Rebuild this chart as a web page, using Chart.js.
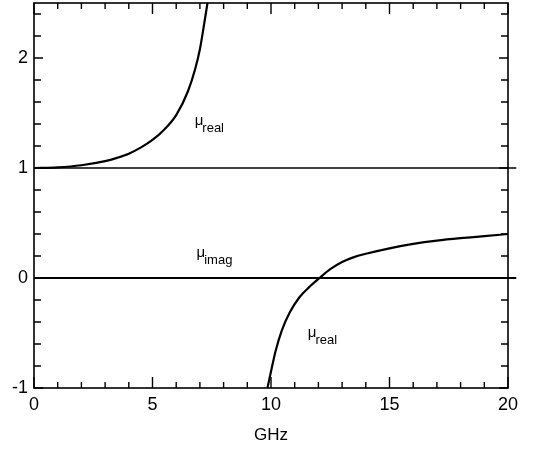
<!DOCTYPE html>
<html>
<head>
<meta charset="utf-8">
<script src="https://cdn.jsdelivr.net/npm/chart.js@4.4.1/dist/chart.umd.min.js"></script>
<style>
  html, body { margin: 0; padding: 0; background: #fff; }
  #wrap { width: 545px; height: 474px; }
</style>
</head>
<body>
<div id="wrap"><canvas id="mu"></canvas></div>
<script>
// values
var upperFreq = [0, 1, 2, 3, 3.5, 4, 4.5, 5, 5.5, 6, 6.5, 6.8, 7.0, 7.15, 7.32];
var upperMu   = [1.0, 1.006, 1.025, 1.062, 1.092, 1.13, 1.185, 1.255, 1.35, 1.48, 1.70, 1.90, 2.08, 2.27, 2.5];

var lowerFreq = [9.85, 10.0, 10.2, 10.45, 10.8, 11.2, 11.6, 12.05, 12.5, 13.0, 13.5, 14.0, 15.0, 16.0, 17.0, 18.0, 19.0, 20.0];
var lowerMu   = [-1.0, -0.85, -0.66, -0.48, -0.31, -0.175, -0.085, 0.0, 0.08, 0.145, 0.19, 0.22, 0.27, 0.31, 0.34, 0.362, 0.38, 0.40];

var refFreq   = [0, 20.35];
var unityMu   = [1, 1];
var imagMu    = [0, 0];

var xTickLabels = [0, 5, 10, 15, 20];
var yTickLabels = [-1, 0, 1, 2];

function pts(xs, ys) {
  return xs.map(function(x, i) { return {x: x, y: ys[i]}; });
}

var font = '"Liberation Sans", Arial, Helvetica, sans-serif';

// frame, inward ticks and the mu labels
var framePlugin = {
  id: 'frame',
  afterDraw: function(chart) {
    var c = chart.ctx, a = chart.chartArea;
    var xs = chart.scales.x, ys = chart.scales.y;
    c.save();
    c.strokeStyle = '#000';
    c.lineWidth = 1.6;
    c.strokeRect(a.left, a.top, a.right - a.left, a.bottom - a.top);

    c.lineWidth = 1.4;
    c.beginPath();
    for (var f = 0; f <= 20; f++) {
      var px = xs.getPixelForValue(f);
      var len = (f % 5 === 0) ? 11 : 6;
      c.moveTo(px, a.bottom); c.lineTo(px, a.bottom - len);
      c.moveTo(px, a.top); c.lineTo(px, a.top + len);
    }
    for (var k = -5; k <= 12; k++) {
      var py = ys.getPixelForValue(k * 0.2);
      var l2 = (k % 5 === 0) ? 9 : 7;
      c.moveTo(a.left, py); c.lineTo(a.left + l2, py);
      c.moveTo(a.right, py); c.lineTo(a.right - l2, py);
    }
    c.stroke();

    var labels = [
      {x: 6.78, y: 1.39, sub: 'real'},
      {x: 6.86, y: 0.19, sub: 'imag'},
      {x: 11.55, y: -0.54, sub: 'real'}
    ];
    c.fillStyle = '#000';
    c.textBaseline = 'alphabetic';
    labels.forEach(function(lb) {
      var px = xs.getPixelForValue(lb.x), py = ys.getPixelForValue(lb.y);
      c.font = '15px ' + font;
      c.fillText('\u03bc', px, py);
      var w = c.measureText('\u03bc').width;
      c.font = '13px ' + font;
      c.fillText(lb.sub, px + w - 1, py + 7);
    });
    c.restore();
  }
};

var ctx = document.getElementById('mu');
var lineStyle = {
  borderColor: '#000',
  pointRadius: 0,
  fill: false,
  showLine: true
};

new Chart(ctx, {
  type: 'scatter',
  data: {
    datasets: [
      Object.assign({ data: pts(upperFreq, upperMu), borderWidth: 2.2, cubicInterpolationMode: 'monotone' }, lineStyle),
      Object.assign({ data: pts(lowerFreq, lowerMu), borderWidth: 2.2, cubicInterpolationMode: 'monotone' }, lineStyle),
      Object.assign({ data: pts(refFreq, unityMu), borderWidth: 1.3, clip: {left: 0, top: 0, right: false, bottom: 0} }, lineStyle),
      Object.assign({ data: pts(refFreq, imagMu), borderWidth: 2, clip: {left: 0, top: 0, right: false, bottom: 0} }, lineStyle)
    ]
  },
  options: {
    responsive: true,
    maintainAspectRatio: false,
    animation: false,
    layout: { padding: { left: 0, right: 37, top: 3, bottom: 24 } },
    plugins: { legend: { display: false }, tooltip: { enabled: false } },
    scales: {
      x: {
        type: 'linear',
        min: 0, max: 20,
        afterBuildTicks: function(s) { s.ticks = xTickLabels.map(function(v) { return {value: v}; }); },
        afterFit: function(s) { s.height = 62; s.paddingLeft = 0; s.paddingRight = 0; },
        grid: { display: false, drawTicks: false },
        border: { display: false },
        ticks: { color: '#000', font: { size: 18, family: font }, padding: 6, maxRotation: 0 },
        title: { display: true, text: 'GHz', color: '#000', font: { size: 17, family: font } }
      },
      y: {
        type: 'linear',
        min: -1, max: 2.5,
        afterBuildTicks: function(s) { s.ticks = yTickLabels.map(function(v) { return {value: v}; }); },
        afterFit: function(s) { s.width = 34; s.paddingTop = 0; s.paddingBottom = 0; },
        grid: { display: false, drawTicks: false },
        border: { display: false },
        ticks: { color: '#000', font: { size: 18, family: font }, padding: 6 }
      }
    }
  },
  plugins: [framePlugin]
});
</script>
</body>
</html>
